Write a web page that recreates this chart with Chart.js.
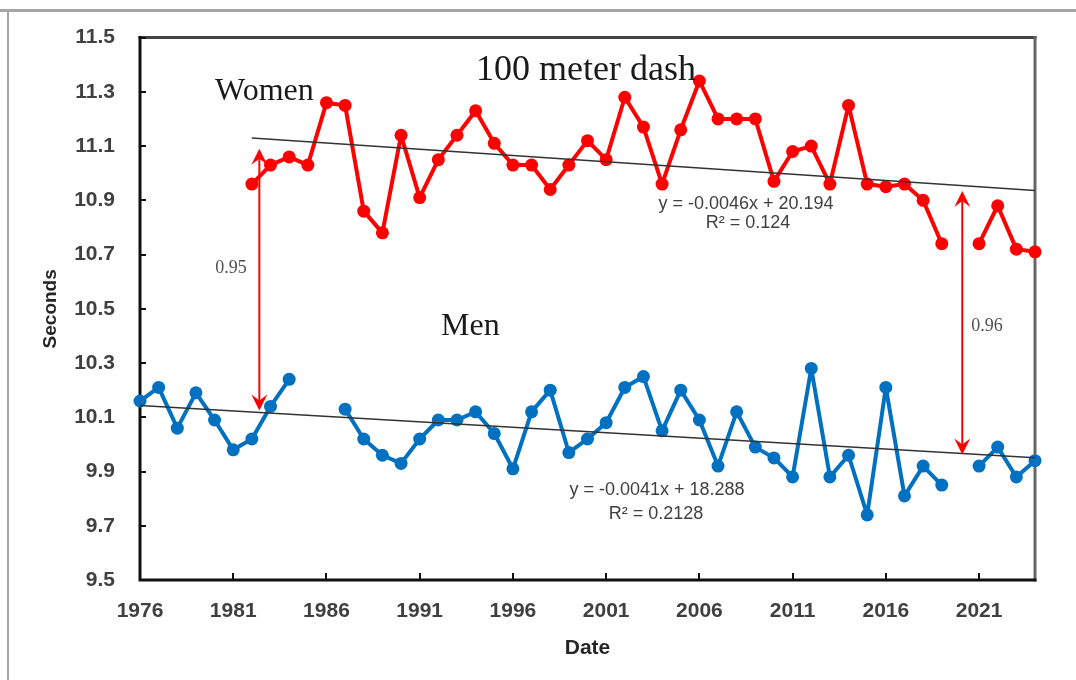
<!DOCTYPE html>
<html>
<head>
<meta charset="utf-8">
<script src="https://cdn.jsdelivr.net/npm/chart.js@4.4.1/dist/chart.umd.min.js"></script>
<style>
html,body{margin:0;padding:0;background:#fff;}
#wrap{width:1076px;height:680px;}
</style>
</head>
<body>
<div id="wrap"><canvas id="c" width="1076" height="680"></canvas></div>
<script>
// ---------------- DATA ----------------
const years = [1976,1977,1978,1979,1980,1981,1982,1983,1984,1985,1986,1987,1988,1989,1990,
  1991,1992,1993,1994,1995,1996,1997,1998,1999,2000,2001,2002,2003,2004,2005,2006,2007,2008,
  2009,2010,2011,2012,2013,2014,2015,2016,2017,2018,2019,2020,2021,2022,2023,2024];

const women = [null,null,null,null,null,null,10.96,11.03,11.06,11.03,11.26,11.25,10.86,10.78,11.14,
  10.91,11.05,11.14,11.23,11.11,11.03,11.03,10.94,11.03,11.12,11.05,11.28,11.17,10.96,11.16,11.34,11.20,11.20,
  11.20,10.97,11.08,11.10,10.96,11.25,10.96,10.95,10.96,10.90,10.74,null,10.74,10.88,10.72,10.71];

const men = [10.16,10.21,10.06,10.19,10.09,9.98,10.02,10.14,10.24,null,null,10.13,10.02,9.96,9.93,
  10.02,10.09,10.09,10.12,10.04,9.91,10.12,10.20,9.97,10.02,10.08,10.21,10.25,10.05,10.20,10.09,9.92,10.12,
  9.99,9.95,9.88,10.28,9.88,9.96,9.74,10.21,9.81,9.92,9.85,null,9.92,9.99,9.88,9.94];

const womenTrendYears = [1982, 2024];
const womenTrendValues = [11.13, 10.936];
const menTrendYears = [1976, 2024];
const menTrendValues = [10.143, 9.951];

const gapArrowYears = [1982.4, 2020.1];
const gapArrowTops = [11.09, 10.934];
const gapArrowBottoms = [10.125, 9.963];
const gapLabels = ["0.95", "0.96"];

const xTickValues = [1976,1981,1986,1991,1996,2001,2006,2011,2016,2021];
const yTickValues = [9.5,9.7,9.9,10.1,10.3,10.5,10.7,10.9,11.1,11.3,11.5];

const titleText = "100 meter dash";
const womenLabel = "Women";
const menLabel = "Men";
const womenEq = ["y = -0.0046x + 20.194", "R\u00B2 = 0.124"];
const menEq = ["y = -0.0041x + 18.288", "R\u00B2 = 0.2128"];
const xTitle = "Date";
const yTitle = "Seconds";

// ---------------- HELPERS ----------------
const pts = (xs, ys) => xs.map((x, i) => ({x: x, y: ys[i]}));

function arrowHead(ctx, x, y, dir) {
  // dir: -1 pointing up, +1 pointing down
  const L = 16, W = 8, notch = 6;
  ctx.beginPath();
  ctx.moveTo(x, y);
  ctx.lineTo(x - W, y - dir * L);
  ctx.lineTo(x, y - dir * (L - notch));
  ctx.lineTo(x + W, y - dir * L);
  ctx.closePath();
  ctx.fill();
}

const framePlugin = {
  id: 'frame',
  beforeDraw(chart) {
    const ctx = chart.ctx;
    ctx.save();
    ctx.fillStyle = '#ffffff';
    ctx.fillRect(0, 0, chart.width, chart.height);
    ctx.strokeStyle = '#a6a6a6';
    ctx.lineWidth = 3;
    ctx.beginPath();
    ctx.moveTo(0, 10.5); ctx.lineTo(chart.width, 10.5);
    ctx.stroke();
    ctx.lineWidth = 2;
    ctx.beginPath();
    ctx.moveTo(8, 10.5); ctx.lineTo(8, chart.height);
    ctx.stroke();
    ctx.restore();
  },
  beforeDatasetsDraw(chart) {
    const ctx = chart.ctx;
    const xs = chart.scales.x, ys = chart.scales.y;
    const a = chart.chartArea;
    ctx.save();
    // plot border
    ctx.lineCap = 'square';
    ctx.lineWidth = 3;
    ctx.strokeStyle = '#444';
    ctx.beginPath(); ctx.moveTo(a.left, a.top); ctx.lineTo(a.right, a.top); ctx.stroke();
    ctx.strokeStyle = '#666';
    ctx.beginPath(); ctx.moveTo(a.right, a.top); ctx.lineTo(a.right, a.bottom); ctx.stroke();
    ctx.strokeStyle = '#111';
    ctx.beginPath(); ctx.moveTo(a.left, a.top); ctx.lineTo(a.left, a.bottom); ctx.lineTo(a.right, a.bottom); ctx.stroke();
    // inner tick marks
    ctx.lineWidth = 2;
    ctx.lineCap = 'butt';
    xTickValues.forEach(v => {
      const px = Math.round(xs.getPixelForValue(v));
      ctx.beginPath(); ctx.moveTo(px, a.bottom); ctx.lineTo(px, a.bottom - 7); ctx.stroke();
    });
    yTickValues.forEach(v => {
      const py = Math.round(ys.getPixelForValue(v));
      ctx.beginPath(); ctx.moveTo(a.left, py); ctx.lineTo(a.left + 6, py); ctx.stroke();
    });
    ctx.restore();
  },
  afterDatasetsDraw(chart) {
    const ctx = chart.ctx;
    const xs = chart.scales.x, ys = chart.scales.y;
    ctx.save();
    // gap arrows
    ctx.strokeStyle = '#ff0000';
    ctx.fillStyle = '#ff0000';
    ctx.lineWidth = 2;
    gapArrowYears.forEach((yr, i) => {
      const px = xs.getPixelForValue(yr);
      const top = ys.getPixelForValue(gapArrowTops[i]);
      const bot = ys.getPixelForValue(gapArrowBottoms[i]);
      ctx.beginPath(); ctx.moveTo(px, top + 8); ctx.lineTo(px, bot - 8); ctx.stroke();
      arrowHead(ctx, px, top, -1);
      arrowHead(ctx, px, bot, 1);
    });
    // texts
    ctx.textAlign = 'center';
    ctx.textBaseline = 'middle';
    ctx.fillStyle = '#505050';
    ctx.font = '18px "Liberation Serif", serif';
    ctx.fillText(gapLabels[0], 231, 268);
    ctx.fillText(gapLabels[1], 987, 326);

    ctx.fillStyle = '#1a1a1a';
    ctx.font = '36px "Liberation Serif", serif';
    ctx.textBaseline = 'alphabetic';
    ctx.fillText(titleText, 586, 80);
    ctx.textAlign = 'left';
    ctx.font = '32px "Liberation Serif", serif';
    ctx.fillText(womenLabel, 215, 100);
    ctx.fillText(menLabel, 441, 335);

    ctx.textAlign = 'center';
    ctx.textBaseline = 'middle';
    ctx.fillStyle = '#404040';
    ctx.font = '18px "Liberation Sans", Arial, sans-serif';
    ctx.fillText(womenEq[0], 746, 204);
    ctx.fillText(womenEq[1], 748, 223);
    ctx.fillText(menEq[0], 657, 490);
    ctx.fillText(menEq[1], 656, 514);
    ctx.restore();
  }
};

// ---------------- CHART ----------------
const tickFont = {family: '"Liberation Sans", Arial, sans-serif', size: 21, weight: 'bold'};

new Chart(document.getElementById('c'), {
  type: 'line',
  data: {
    datasets: [
      {
        label: 'Women',
        data: pts(years, women),
        borderColor: '#ff0000',
        backgroundColor: '#ff0000',
        borderWidth: 4,
        borderJoinStyle: 'round',
        borderCapStyle: 'round',
        pointRadius: 6.5,
        pointBorderWidth: 0,
        spanGaps: false,
        clip: false,
        order: 2
      },
      {
        label: 'Men',
        data: pts(years, men),
        borderColor: '#0070c0',
        backgroundColor: '#0070c0',
        borderWidth: 4,
        borderJoinStyle: 'round',
        borderCapStyle: 'round',
        pointRadius: 6.5,
        pointBorderWidth: 0,
        spanGaps: false,
        clip: false,
        order: 2
      },
      {
        label: 'Women trend',
        data: pts(womenTrendYears, womenTrendValues),
        borderColor: '#333333',
        borderWidth: 1.5,
        pointRadius: 0,
        order: 1
      },
      {
        label: 'Men trend',
        data: pts(menTrendYears, menTrendValues),
        borderColor: '#333333',
        borderWidth: 1.5,
        pointRadius: 0,
        order: 1
      }
    ]
  },
  options: {
    responsive: false,
    animation: false,
    devicePixelRatio: 1,
    layout: {padding: {top: 36, right: 41, bottom: 0, left: 0}},
    plugins: {legend: {display: false}, tooltip: {enabled: false}},
    elements: {line: {tension: 0}},
    scales: {
      x: {
        type: 'linear',
        min: 1976,
        max: 2024,
        afterBuildTicks: s => { s.ticks = xTickValues.map(v => ({value: v})); },
        afterFit: s => { s.height = 100; },
        grid: {display: false, drawTicks: false},
        border: {display: false},
        ticks: {
          autoSkip: false, maxRotation: 0, padding: 19,
          color: '#404040', font: tickFont,
          callback: v => String(v)
        },
        title: {
          display: true, text: xTitle, color: '#262626',
          font: {family: '"Liberation Sans", Arial, sans-serif', size: 21, weight: 'bold'},
          padding: {top: 0, bottom: 19}
        }
      },
      y: {
        min: 9.5,
        max: 11.5,
        afterBuildTicks: s => { s.ticks = yTickValues.map(v => ({value: v})); },
        afterFit: s => { s.width = 140; },
        grid: {display: false, drawTicks: false},
        border: {display: false},
        ticks: {
          autoSkip: false, padding: 25,
          color: '#404040', font: tickFont,
          callback: v => Number(v).toFixed(1)
        },
        title: {
          display: true, text: yTitle, color: '#262626',
          font: {family: '"Liberation Sans", Arial, sans-serif', size: 19, weight: 'bold'},
          padding: {top: 39, bottom: 0}
        }
      }
    }
  },
  plugins: [framePlugin]
});
</script>
</body>
</html>
